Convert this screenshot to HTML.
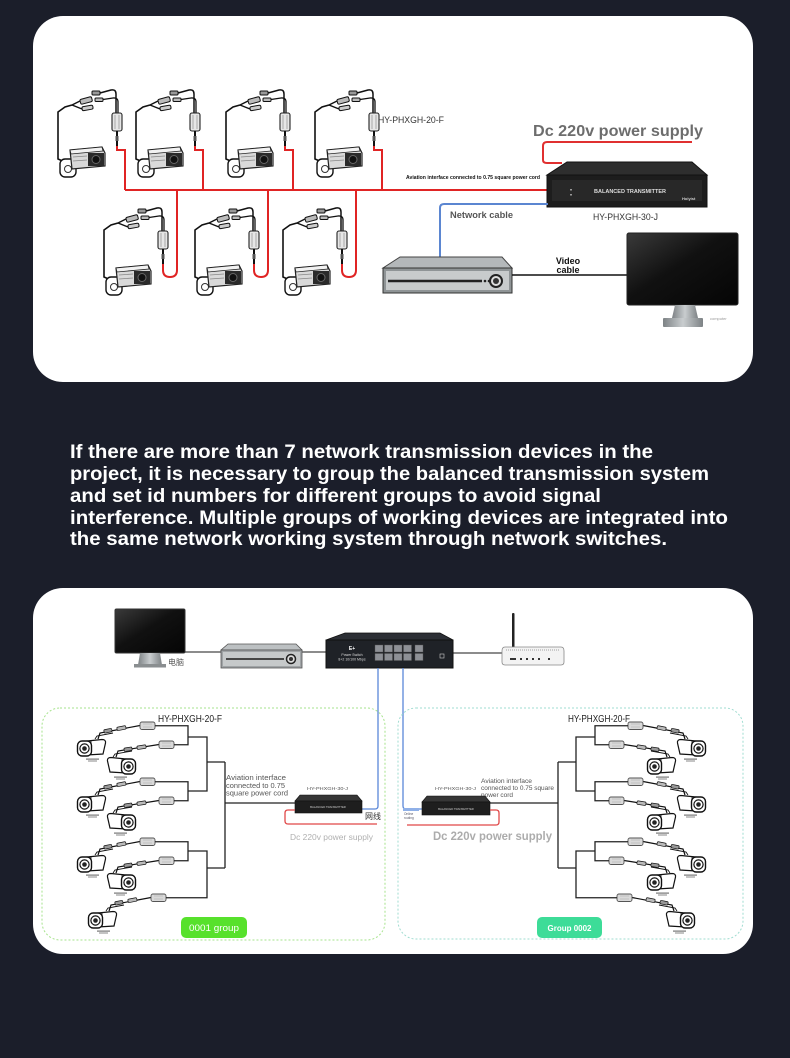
<!DOCTYPE html>
<html><head><meta charset="utf-8"><style>
html,body{margin:0;padding:0;background:#1b1e2a;}
svg{display:block;}
</style></head><body>
<svg width="790" height="1058" viewBox="0 0 790 1058" xmlns="http://www.w3.org/2000/svg" font-family="'Liberation Sans', 'Noto Sans CJK SC', sans-serif">
<defs>
  <linearGradient id="gloss" x1="0" y1="0" x2="1" y2="1">
    <stop offset="0" stop-color="#3a3a3a"/><stop offset="0.45" stop-color="#111"/><stop offset="1" stop-color="#050505"/>
  </linearGradient>
  <linearGradient id="stand" x1="0" y1="0" x2="1" y2="0">
    <stop offset="0" stop-color="#7d8285"/><stop offset="0.5" stop-color="#c9cdcf"/><stop offset="1" stop-color="#7d8285"/>
  </linearGradient>
  <!-- top card camera unit, origin = balun center / unit top -->
  <g id="cu">
    <path d="M-50,73 L-59,69 L-59,22 L-52,17 L-45,15" fill="none" stroke="#111" stroke-width="1.6"/>
    <path d="M-45,15 L-37,11 M-45,15 L-35,19" fill="none" stroke="#111" stroke-width="1.4"/>
    <rect x="-37" y="8" width="12" height="5" rx="1.5" fill="#bbb" stroke="#111" stroke-width="1" transform="rotate(-15 -31 10)"/>
    <rect x="-35" y="16" width="11" height="4" rx="1.5" fill="#ccc" stroke="#111" stroke-width="1" transform="rotate(-10 -30 18)"/>
    <rect x="-25" y="1" width="8" height="4" rx="1" fill="#999" stroke="#111" stroke-width="1"/>
    <rect x="-22" y="8" width="8" height="3.5" rx="1" fill="#bbb" stroke="#111" stroke-width="1"/>
    <path d="M-17,3 L-6,0 Q-1,-1 -1,4 L-1,23" fill="none" stroke="#111" stroke-width="1.5"/>
    <path d="M-14,9.5 L-4,8 Q1,7.5 1,12 L1,23" fill="none" stroke="#111" stroke-width="1.3"/>
    <rect x="-5" y="23" width="10" height="18" rx="2" fill="#e6e6e6" stroke="#222" stroke-width="1.1"/>
    <path d="M-2,25 L-2,39 M2,25 L2,39" stroke="#999" stroke-width="0.8"/>
    <path d="M0,41 L0,56" stroke="#111" stroke-width="2"/>
    <rect x="-1.5" y="46" width="3" height="5" fill="#555"/>
    <rect x="-57" y="69" width="16" height="18" rx="5" fill="#fff" stroke="#111" stroke-width="1.4"/>
    <circle cx="-49" cy="79" r="3.5" fill="none" stroke="#333" stroke-width="1"/>
    <path d="M-47,60 L-15,57 L-12,63 L-12,76 L-45,79 Z" fill="#d9d9d9" stroke="#222" stroke-width="1.2"/>
    <path d="M-47,60 L-15,57 L-14,61 L-46,64 Z" fill="#f2f2f2" stroke="#222" stroke-width="0.8"/>
    <path d="M-44,67 L-30,66 M-44,71 L-30,70" stroke="#888" stroke-width="0.8"/>
    <rect x="-29" y="63" width="16" height="13" fill="#2a2a2a"/>
    <circle cx="-21" cy="69.5" r="4" fill="#111" stroke="#666" stroke-width="1"/>
  </g>
  <!-- dome camera facing left -->
  <g id="dl">
    <path d="M10,3 L25,1.5 Q29,1.5 28.5,5 L26,16 L10,17 Z" fill="#fff" stroke="#111" stroke-width="1.2"/>
    <path d="M14,2.5 L14,17" stroke="#111" stroke-width="0.8"/>
    <rect x="0.5" y="3" width="14" height="15" rx="4.5" fill="#fff" stroke="#111" stroke-width="1.4"/>
    <circle cx="7.5" cy="10.5" r="4.6" fill="#fff" stroke="#111" stroke-width="1.2"/>
    <circle cx="7.5" cy="10.5" r="2.3" fill="#222"/>
    <rect x="9" y="20.5" width="13" height="1.2" fill="#777"/>
    <rect x="11" y="22.5" width="9" height="1" fill="#888"/>
  </g>
  <!-- group camera A (faces left) -->
  <g id="ca">
    <path d="M21,1 L23,-5 L63,-12.5" fill="none" stroke="#111" stroke-width="1.2"/>
    <path d="M18,1 L20,-2 L36,-5" fill="none" stroke="#111" stroke-width="0.9"/>
    <rect x="27" y="-9" width="8" height="3.5" rx="1" fill="#999" stroke="#111" stroke-width="0.7" transform="rotate(-11 31 -7)"/>
    <rect x="40" y="-11.5" width="9" height="3.5" rx="1" fill="#bbb" stroke="#111" stroke-width="0.7" transform="rotate(-11 44 -9.5)"/>
    <rect x="63" y="-16" width="15" height="7.5" rx="2" fill="#d9d9d9" stroke="#555" stroke-width="0.9"/>
    <path d="M66,-14 H75 M66,-11 H75" stroke="#aaa" stroke-width="0.6"/>
    <use href="#dl"/>
  </g>
  <!-- group camera B (faces right) -->
  <g id="cb">
    <path d="M8,1 L10,-5 L51,-11.5" fill="none" stroke="#111" stroke-width="1.2"/>
    <path d="M5,1 L7,-2 L24,-5" fill="none" stroke="#111" stroke-width="0.9"/>
    <rect x="16" y="-8.5" width="8" height="3.5" rx="1" fill="#999" stroke="#111" stroke-width="0.7" transform="rotate(-9 20 -7)"/>
    <rect x="29" y="-10.5" width="9" height="3.5" rx="1" fill="#bbb" stroke="#111" stroke-width="0.7" transform="rotate(-9 33 -9)"/>
    <rect x="51" y="-15" width="15" height="7.5" rx="2" fill="#d9d9d9" stroke="#555" stroke-width="0.9"/>
    <path d="M54,-13 H63 M54,-10 H63" stroke="#aaa" stroke-width="0.6"/>
    <use href="#dl" transform="translate(28,0) scale(-1,1)"/>
  </g>
  <!-- group tree -->
  <g id="tree">
    <use href="#ca" x="77" y="738"/>
    <use href="#cb" x="108" y="756"/>
    <use href="#ca" x="77" y="794"/>
    <use href="#cb" x="108" y="812"/>
    <use href="#ca" x="77" y="854"/>
    <use href="#cb" x="108" y="872"/>
    <use href="#ca" x="88" y="910"/>
    <path d="M155,725.75H188V744.75H174 M155,781.75H188V800.75H174 M188,737H207V791H188 M207,762H225 M155,841.75H188V860.75H174 M166,897.75H207V851H188 M207,868H225 M225,762V868 M225,803H295" fill="none" stroke="#222" stroke-width="1.3"/>
  </g>
</defs>

<!-- ============ TOP CARD ============ -->
<rect x="33" y="16" width="720" height="366" rx="30" fill="#ffffff"/>

<!-- red bus -->
<path d="M125,190 H548" stroke="#e02424" stroke-width="2" fill="none"/>
<g fill="none" stroke="#e02424" stroke-width="2">
  <path d="M117,146 L117,150 L125,150 L125,190"/>
  <path d="M195,146 L195,150 L203,150 L203,190"/>
  <path d="M285,146 L285,150 L293,150 L293,190"/>
  <path d="M374,146 L374,150 L382,150 L382,190"/>
  <path d="M163,258 L163,270 Q163,277 170,277 Q177,277 177,270 L177,190"/>
  <path d="M254,258 L254,270 Q254,277 261,277 Q268,277 268,270 L268,190"/>
  <path d="M342,258 L342,270 Q342,277 349,277 Q356,277 356,270 L356,190"/>
</g>
<use href="#cu" transform="translate(117,90)"/>
<use href="#cu" transform="translate(195,90)"/>
<use href="#cu" transform="translate(285,90)"/>
<use href="#cu" transform="translate(374,90)"/>
<use href="#cu" transform="translate(163,208)"/>
<use href="#cu" transform="translate(254,208)"/>
<use href="#cu" transform="translate(342,208)"/>

<text x="378" y="123" font-size="9" fill="#333" textLength="66" lengthAdjust="spacingAndGlyphs">HY-PHXGH-20-F</text>
<text x="406" y="179" font-size="5" font-weight="bold" fill="#111" textLength="134" lengthAdjust="spacingAndGlyphs">Aviation interface connected to 0.75 square power cord</text>
<text x="533" y="136" font-size="16" font-weight="bold" fill="#6d6d6d" textLength="170" lengthAdjust="spacingAndGlyphs">Dc 220v power supply</text>

<!-- power line -->
<path d="M692,142 H547 Q543,142 543,146 V160 Q543,163 547,163 H562" fill="none" stroke="#e03030" stroke-width="2"/>

<!-- transmitter -->
<polygon points="567,162 692,162 707,175 547,175" fill="#2e2e2e" stroke="#111" stroke-width="1"/>
<rect x="547" y="175" width="160" height="32" fill="#1d1d1d" stroke="#111" stroke-width="1"/>
<rect x="552" y="180" width="150" height="21" fill="#282828"/>
<text x="630" y="193" font-size="5" font-weight="bold" fill="#ddd" text-anchor="middle" textLength="72" lengthAdjust="spacingAndGlyphs">BALANCED TRANSMITTER</text>
<rect x="570" y="189" width="2" height="1.5" fill="#999"/>
<rect x="570" y="194" width="2" height="1.5" fill="#999"/>
<text x="682" y="200" font-size="4" font-weight="bold" fill="#ccc">Holyist</text>
<text x="593" y="220" font-size="9" fill="#333" textLength="65" lengthAdjust="spacingAndGlyphs">HY-PHXGH-30-J</text>

<!-- network cable -->
<path d="M548,204 H444 Q440,204 440,208 V257" fill="none" stroke="#5b86d1" stroke-width="2"/>
<text x="450" y="218" font-size="9.5" font-weight="bold" fill="#555" textLength="63" lengthAdjust="spacingAndGlyphs">Network cable</text>

<!-- DVR top -->
<polygon points="400,257 502,257 512,268 383,268" fill="#b4b8ba" stroke="#444" stroke-width="1"/>
<rect x="383" y="268" width="129" height="25" fill="#8f9496" stroke="#333" stroke-width="1"/>
<rect x="386" y="271" width="123" height="19" fill="#c8cbcc"/>
<path d="M388,281 H482" stroke="#222" stroke-width="2.5"/>
<circle cx="485" cy="281" r="1.3" fill="#222"/>
<circle cx="489" cy="281" r="1.3" fill="#222"/>
<circle cx="496" cy="281" r="6" fill="#ddd" stroke="#222" stroke-width="2"/>
<circle cx="496" cy="281" r="3" fill="#333"/>

<!-- video cable -->
<path d="M512,275 H627" stroke="#111" stroke-width="1.5"/>
<text x="568" y="264" font-size="9" font-weight="bold" fill="#111" text-anchor="middle">Video</text>
<text x="568" y="273" font-size="9" font-weight="bold" fill="#111" text-anchor="middle">cable</text>

<!-- monitor top -->
<rect x="627" y="233" width="111" height="72" rx="2" fill="url(#gloss)" stroke="#222" stroke-width="1"/>
<polygon points="675,305 695,305 698,318 672,318" fill="url(#stand)"/>
<rect x="663" y="318" width="40" height="9" rx="1" fill="url(#stand)"/>
<text x="710" y="320" font-size="4" fill="#999">computer</text>

<!-- ============ PARAGRAPH ============ -->
<g font-weight="bold" font-size="19.5" fill="#ffffff">
  <text x="70" y="458" textLength="583" lengthAdjust="spacingAndGlyphs">If there are more than 7 network transmission devices in the</text>
  <text x="70" y="480" textLength="639" lengthAdjust="spacingAndGlyphs">project, it is necessary to group the balanced transmission system</text>
  <text x="70" y="502" textLength="531" lengthAdjust="spacingAndGlyphs">and set id numbers for different groups to avoid signal</text>
  <text x="70" y="524" textLength="658" lengthAdjust="spacingAndGlyphs">interference. Multiple groups of working devices are integrated into</text>
  <text x="70" y="545" textLength="597" lengthAdjust="spacingAndGlyphs">the same network working system through network switches.</text>
</g>

<!-- ============ BOTTOM CARD ============ -->
<rect x="33" y="588" width="720" height="366" rx="30" fill="#ffffff"/>

<!-- connectors top row -->
<path d="M185,652 H222 M302,652 H326 M453,653 H503" stroke="#666" stroke-width="1.5"/>

<!-- monitor -->
<rect x="115" y="609" width="70" height="44" rx="1.5" fill="url(#gloss)" stroke="#333" stroke-width="1"/>
<polygon points="140,653 160,653 162,665 138,665" fill="url(#stand)"/>
<rect x="134" y="664" width="32" height="3.5" fill="#8a8e90"/>
<text x="168" y="665" font-size="8" fill="#555">电脑</text>

<!-- DVR -->
<polygon points="228,644 296,644 302,650 221,650" fill="#bcc0c2" stroke="#555" stroke-width="0.8"/>
<rect x="221" y="650" width="81" height="18" fill="#a0a4a6" stroke="#555" stroke-width="0.8"/>
<rect x="223" y="652" width="77" height="14" fill="#c6c9ca"/>
<path d="M226,659 H284" stroke="#333" stroke-width="1.8"/>
<circle cx="291" cy="659" r="4.5" fill="#ddd" stroke="#222" stroke-width="1.5"/>
<circle cx="291" cy="659" r="2" fill="#333"/>

<!-- switch -->
<polygon points="345,633 440,633 453,640 326,640" fill="#2c2f35" stroke="#111" stroke-width="0.8"/>
<rect x="326" y="640" width="127" height="28" fill="#1f2227" stroke="#111" stroke-width="1"/>
<text x="352" y="650" font-size="5" font-weight="bold" fill="#fff" text-anchor="middle">E+</text>
<text x="352" y="656" font-size="3.5" fill="#ddd" text-anchor="middle">Power Switch</text>
<text x="352" y="660.5" font-size="3.5" fill="#ddd" text-anchor="middle">8+2 10/100 Mbps</text>
<g fill="#8d9096" stroke="#555" stroke-width="0.4">
  <rect x="375" y="645" width="8" height="7"/><rect x="384.5" y="645" width="8" height="7"/><rect x="394" y="645" width="8" height="7"/><rect x="403.5" y="645" width="8" height="7"/>
  <rect x="375" y="653.5" width="8" height="7"/><rect x="384.5" y="653.5" width="8" height="7"/><rect x="394" y="653.5" width="8" height="7"/><rect x="403.5" y="653.5" width="8" height="7"/>
  <rect x="415" y="645" width="8" height="7"/><rect x="415" y="653.5" width="8" height="7"/>
</g>
<rect x="440" y="654" width="4" height="4" fill="none" stroke="#ccc" stroke-width="0.6"/>

<!-- router -->
<rect x="512" y="613" width="2.5" height="35" rx="1" fill="#222"/>
<path d="M505,647 H561 Q564,647 564,651 V662 Q564,665 561,665 H505 Q502,665 502,662 V651 Q502,647 505,647 Z" fill="#f3f3f3" stroke="#888" stroke-width="0.8"/>
<line x1="506" y1="650" x2="560" y2="650" stroke="#888" stroke-width="0.8" stroke-dasharray="1,1"/>
<g fill="#333"><rect x="510" y="658" width="6" height="2"/><rect x="520" y="658" width="2" height="2"/><rect x="526" y="658" width="2" height="2"/><rect x="532" y="658" width="2" height="2"/><rect x="538" y="658" width="2" height="2"/><rect x="548" y="658" width="2" height="2"/></g>

<!-- blue lines -->
<path d="M378,668 V806 Q378,809 375,809 H362" fill="none" stroke="#5a87d8" stroke-width="1.3"/>
<path d="M403,668 V806 Q403,809 406,809 H422" fill="none" stroke="#5a87d8" stroke-width="1.3"/>

<!-- group boxes -->
<rect x="42" y="708" width="343" height="232" rx="18" fill="none" stroke="#a6e38c" stroke-width="1" stroke-dasharray="2,2"/>
<rect x="398" y="708" width="345" height="231" rx="18" fill="none" stroke="#9fdcd0" stroke-width="1" stroke-dasharray="2,2"/>

<!-- trees -->
<use href="#tree"/>
<use href="#tree" transform="matrix(-1 0 0 1 783 0)"/>

<!-- group 1 labels & transmitter -->
<text x="158" y="722" font-size="10" fill="#222" textLength="64" lengthAdjust="spacingAndGlyphs">HY-PHXGH-20-F</text>
<g font-size="7.5" fill="#555">
  <text x="226" y="780" textLength="60" lengthAdjust="spacingAndGlyphs">Aviation interface</text>
  <text x="226" y="788" textLength="59" lengthAdjust="spacingAndGlyphs">connected to 0.75</text>
  <text x="226" y="795.5" textLength="62" lengthAdjust="spacingAndGlyphs">square power cord</text>
</g>
<text x="307" y="790" font-size="4.5" fill="#555" textLength="41" lengthAdjust="spacingAndGlyphs">HY-PHXGH-30-J</text>
<polygon points="300,795 357,795 362,801 295,801" fill="#363636" stroke="#111" stroke-width="0.6"/>
<rect x="295" y="801" width="67" height="12" fill="#1e1e1e" stroke="#111" stroke-width="0.6"/>
<text x="328" y="808" font-size="2.8" fill="#ccc" text-anchor="middle">BALANCED TRANSMITTER</text>
<path d="M295,810 H288 Q285,810 285,813 V821 Q285,824 288,824 H377" fill="none" stroke="#e04848" stroke-width="1.3"/>
<text x="365" y="819" font-size="8" fill="#333">网线</text>
<text x="290" y="840" font-size="8.5" fill="#b0b0b0" textLength="83" lengthAdjust="spacingAndGlyphs">Dc 220v power supply</text>
<rect x="181" y="917" width="66" height="21" rx="5" fill="#57e12c"/>
<text x="214" y="931" font-size="9" fill="#ffffff" text-anchor="middle" textLength="50" lengthAdjust="spacingAndGlyphs">0001 group</text>

<!-- group 2 labels & transmitter -->
<text x="568" y="722" font-size="10" fill="#222" textLength="62" lengthAdjust="spacingAndGlyphs">HY-PHXGH-20-F</text>
<g font-size="6.5" fill="#555">
  <text x="481" y="783" textLength="51" lengthAdjust="spacingAndGlyphs">Aviation interface</text>
  <text x="481" y="790" textLength="73" lengthAdjust="spacingAndGlyphs">connected to 0.75 square</text>
  <text x="481" y="797" textLength="32" lengthAdjust="spacingAndGlyphs">power cord</text>
</g>
<text x="435" y="790" font-size="4.5" fill="#555" textLength="41" lengthAdjust="spacingAndGlyphs">HY-PHXGH-30-J</text>
<polygon points="427,796 485,796 490,802 422,802" fill="#363636" stroke="#111" stroke-width="0.6"/>
<rect x="422" y="802" width="68" height="13" fill="#1e1e1e" stroke="#111" stroke-width="0.6"/>
<text x="456" y="810" font-size="2.8" fill="#ccc" text-anchor="middle">BALANCED TRANSMITTER</text>
<rect x="403" y="808" width="16" height="3" fill="#8fb0e8"/>
<text x="404" y="815" font-size="3.2" fill="#556">Online</text>
<text x="404" y="819" font-size="3.2" fill="#556">routing</text>
<path d="M490,810 H496 Q499,810 499,813 V822 Q499,825 496,825 H407" fill="none" stroke="#e04848" stroke-width="1.3"/>
<text x="433" y="840" font-size="12" font-weight="bold" fill="#acacac" textLength="119" lengthAdjust="spacingAndGlyphs">Dc 220v power supply</text>
<rect x="537" y="917" width="65" height="21" rx="5" fill="#3ddc98"/>
<text x="569.5" y="931" font-size="8.5" font-weight="bold" fill="#ffffff" text-anchor="middle" textLength="44" lengthAdjust="spacingAndGlyphs">Group 0002</text>
</svg>
</body></html>
